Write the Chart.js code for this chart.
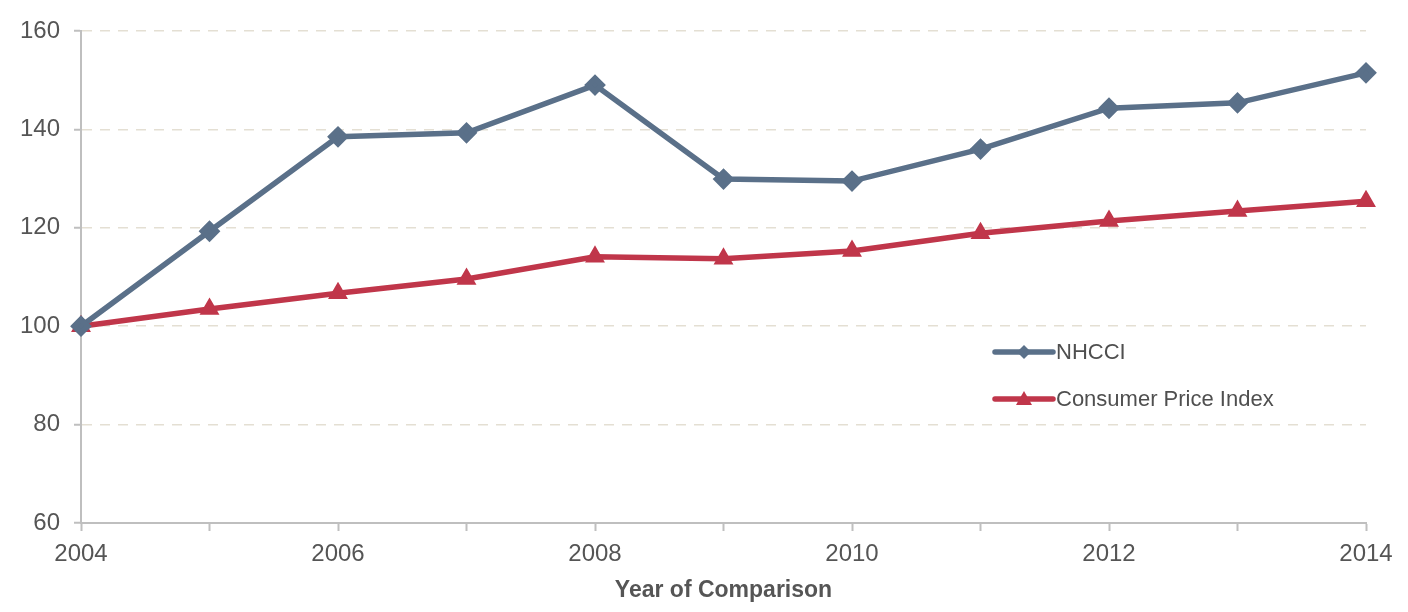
<!DOCTYPE html>
<html>
<head>
<meta charset="utf-8">
<script src="https://cdn.jsdelivr.net/npm/chart.js@4"></script>
<style>
  html, body { margin: 0; padding: 0; background: #fff; }
  #wrap { width: 1408px; height: 612px; }
</style>
</head>
<body>
<div id="wrap"><canvas id="cost-chart"></canvas></div>
<script>
// data
const years = ['2004', '2005', '2006', '2007', '2008', '2009', '2010', '2011', '2012', '2013', '2014'];
const nhcci = [100, 119.3, 138.5, 139.3, 149.0, 129.9, 129.5, 136.0, 144.3, 145.4, 151.5];
const cpi = [100, 103.5, 106.7, 109.6, 114.1, 113.7, 115.3, 118.9, 121.4, 123.4, 125.4];
const yTicks = [60, 80, 100, 120, 140, 160];

const textColor = '#555555';
const axisGrey = '#bfbfbf';
const font = 'Liberation Sans, Arial, sans-serif';

// legend drawn inside the plot, like the original
const insideLegend = {
    id: 'insideLegend',
    afterDraw(chart) {
        const ctx = chart.ctx;
        const x0 = 995, x1 = 1053;
        const rows = [352, 399];
        ctx.save();
        chart.data.datasets.forEach((ds, i) => {
            const y = rows[i];
            ctx.strokeStyle = ds.borderColor;
            ctx.lineWidth = 5.5;
            ctx.lineCap = 'round';
            ctx.beginPath();
            ctx.moveTo(x0, y);
            ctx.lineTo(x1, y);
            ctx.stroke();
            ctx.fillStyle = ds.borderColor;
            ctx.beginPath();
            const cx = (x0 + x1) / 2;
            if (ds.pointStyle === 'rectRot') {
                ctx.moveTo(cx, y - 7);
                ctx.lineTo(cx + 7, y);
                ctx.lineTo(cx, y + 7);
                ctx.lineTo(cx - 7, y);
            } else {
                ctx.moveTo(cx, y - 8);
                ctx.lineTo(cx + 8, y + 6);
                ctx.lineTo(cx - 8, y + 6);
            }
            ctx.closePath();
            ctx.fill();
            ctx.fillStyle = '#4f4f4f';
            ctx.font = '22px ' + font;
            ctx.textBaseline = 'middle';
            ctx.textAlign = 'left';
            ctx.fillText(ds.label, x1 + 3, y + 1);
        });
        ctx.restore();
    }
};

new Chart(document.getElementById('cost-chart'), {
    type: 'line',
    data: {
        labels: years,
        datasets: [
            {
                label: 'NHCCI',
                data: nhcci,
                borderColor: '#5a7089',
                backgroundColor: '#5a7089',
                borderWidth: 5.5,
                pointStyle: 'rectRot',
                pointRadius: 7,
                pointHoverRadius: 7,
                tension: 0,
                fill: false
            },
            {
                label: 'Consumer Price Index',
                data: cpi,
                borderColor: '#c0364a',
                backgroundColor: '#c0364a',
                borderWidth: 5.5,
                pointStyle: 'triangle',
                pointRadius: 6,
                pointHoverRadius: 6,
                tension: 0,
                fill: false
            }
        ]
    },
    options: {
        responsive: true,
        maintainAspectRatio: false,
        animation: false,
        layout: { padding: { top: 31, right: 42, bottom: 0, left: 0 } },
        plugins: {
            legend: { display: false },
            tooltip: { enabled: false }
        },
        scales: {
            x: {
                offset: false,
                afterFit: (axis) => { axis.height = 89; },
                grid: {
                    drawOnChartArea: false,
                    tickLength: 8,
                    tickColor: axisGrey,
                    tickWidth: 2
                },
                border: { color: axisGrey, width: 2 },
                ticks: {
                    autoSkip: false,
                    maxRotation: 0,
                    color: textColor,
                    font: { family: font, size: 24 },
                    padding: 9,
                    callback: (v, i) => (i % 2 === 0 ? years[i] : '')
                },
                title: {
                    display: true,
                    text: 'Year of Comparison',
                    color: textColor,
                    font: { family: font, size: 23, weight: 'bold' },
                    padding: { top: 4, bottom: 8 }
                }
            },
            y: {
                min: 60,
                max: 160,
                afterBuildTicks: (axis) => { axis.ticks = yTicks.map(v => ({ value: v })); },
                afterFit: (axis) => { axis.width = 81; },
                grid: {
                    color: (c) => (c.tick && c.tick.value === 60 ? 'rgba(0,0,0,0)' : '#e4dfd3'),
                    lineWidth: 1.5,
                    tickLength: 7,
                    tickColor: axisGrey,
                    tickWidth: 2
                },
                border: { color: axisGrey, width: 2, dash: [10, 8] },
                ticks: {
                    color: textColor,
                    font: { family: font, size: 24 },
                    padding: 14
                }
            }
        }
    },
    plugins: [insideLegend]
});
</script>
</body>
</html>
